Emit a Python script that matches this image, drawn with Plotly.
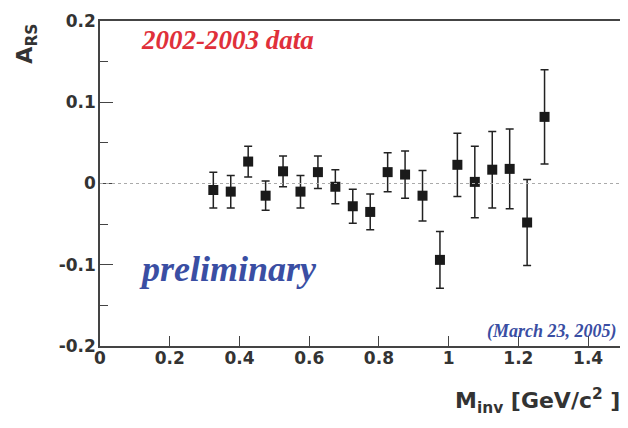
import plotly.graph_objects as go

m_inv = [0.325, 0.375, 0.425, 0.475, 0.525, 0.575, 0.625, 0.675, 0.725, 0.775,
         0.825, 0.875, 0.925, 0.975, 1.025, 1.075, 1.125, 1.175, 1.225, 1.275]
a_rs = [-0.008, -0.010, 0.027, -0.015, 0.015, -0.010, 0.014, -0.004, -0.028, -0.035,
        0.014, 0.011, -0.015, -0.094, 0.023, 0.002, 0.017, 0.018, -0.048, 0.082]
a_err = [0.022, 0.020, 0.019, 0.018, 0.019, 0.020, 0.020, 0.021, 0.021, 0.022,
         0.024, 0.029, 0.031, 0.035, 0.039, 0.044, 0.047, 0.049, 0.053, 0.058]

x_ticks = [0, 0.2, 0.4, 0.6, 0.8, 1.0, 1.2, 1.4]
x_labels = ["0", "0.2", "0.4", "0.6", "0.8", "1", "1.2", "1.4"]
y_ticks = [-0.2, -0.1, 0, 0.1, 0.2]
y_labels = ["-0.2", "-0.1", "0", "0.1", "0.2"]

axis_color = "#444444"
sans = "DejaVu Sans, Liberation Sans, Arial"
serif = "Liberation Serif, Times New Roman"
tick_font = dict(family=sans, size=17, color="#333333", weight="bold")

# plot area on screen: x 100..625, y 19..346 (page has an 8px body offset)
PL, PR, PT, PB = 100, 625, 19, 346
PW, PH = PR - PL, PB - PT


def px(xs):
    return (xs - PL) / PW


def py(ys):
    return (PB - ys) / PH


fig = go.Figure()
fig.add_trace(go.Scatter(
    x=m_inv, y=a_rs, mode="markers",
    marker=dict(symbol="square", size=10, color="#1a1a1a"),
    error_y=dict(type="data", array=a_err, visible=True, color="#222222",
                 thickness=1.5, width=4),
    showlegend=False,
))

fig.add_hline(y=0, line=dict(color="#aaaaaa", width=1, dash="dot"))

fig.update_layout(
    width=620, height=420,
    margin=dict(l=92, r=3, t=11, b=82),
    paper_bgcolor="white", plot_bgcolor="white",
    xaxis=dict(range=[0, 1.5], tickvals=x_ticks, ticktext=x_labels,
               ticks="inside", ticklen=10, tickwidth=1.2, tickcolor=axis_color,
               showline=True, linecolor=axis_color, linewidth=1.5, mirror=True,
               showgrid=False, zeroline=False, tickfont=tick_font,
               ticklabelstandoff=-4),
    yaxis=dict(range=[-0.2, 0.2], tickvals=y_ticks, ticktext=y_labels,
               ticks="inside", ticklen=13, tickwidth=1.2, tickcolor=axis_color,
               minor=dict(dtick=0.05, ticks="inside", ticklen=8, tickcolor=axis_color, tickwidth=1.2),
               showline=True, linecolor=axis_color, linewidth=1.5, mirror=True,
               showgrid=False, zeroline=False, tickfont=tick_font,
               ticklabelstandoff=-1),
)

fig.add_annotation(
    text="A<sub>RS</sub>", textangle=-90, xref="paper", yref="paper",
    x=px(26), xanchor="center", y=py(41.5), yanchor="middle", showarrow=False,
    font=dict(family=sans, size=22, color="#333333", weight="bold"),
)
fig.add_annotation(
    text="M<sub>inv</sub> [GeV/c<sup>2</sup> ]", xref="paper", yref="paper",
    x=px(624), xanchor="right", y=py(401), yanchor="middle", showarrow=False,
    font=dict(family=sans, size=22, color="#333333", weight="bold"),
)
fig.add_annotation(
    text="<b><i>2002-2003 data</i></b>", xref="paper", yref="paper",
    x=px(139), xanchor="left", y=py(38), yanchor="middle",
    showarrow=False,
    font=dict(family=serif, size=27, color="#e0303a"),
)
fig.add_annotation(
    text="<b><i>preliminary</i></b>", xref="paper", yref="paper",
    x=px(137), xanchor="left", y=py(269), yanchor="middle",
    showarrow=False,
    font=dict(family=serif, size=36, color="#3a4ea3"),
)
fig.add_annotation(
    text="<b><i>(March 23, 2005)</i></b>", xref="paper", yref="paper",
    x=px(621), xanchor="right", y=py(331), yanchor="middle",
    showarrow=False,
    font=dict(family=serif, size=18, color="#3a4ea3"),
)

fig.write_html("out.html")
